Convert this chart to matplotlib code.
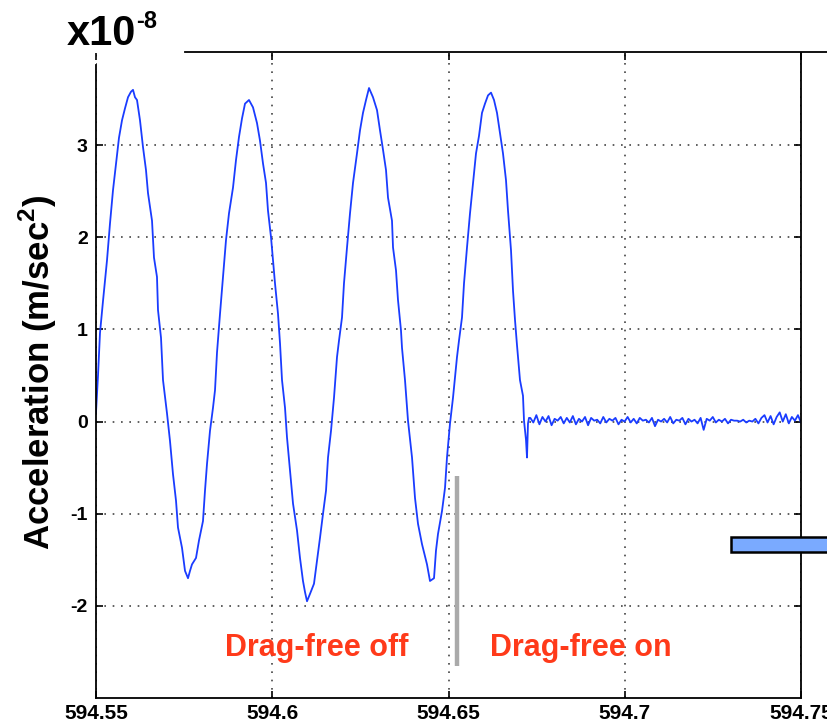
import numpy as np
import matplotlib
matplotlib.use("Agg")
import matplotlib.pyplot as plt
from matplotlib.lines import Line2D
from matplotlib.patches import Rectangle

plt.rcParams['font.family'] = ['Liberation Sans', 'DejaVu Sans']
plt.rcParams['font.weight'] = 'bold'
plt.rcParams['axes.unicode_minus'] = False
plt.rcParams['mathtext.fontset'] = 'custom'
plt.rcParams['mathtext.bf'] = 'Liberation Sans:bold'
plt.rcParams['mathtext.rm'] = 'Liberation Sans:bold'

# time axis start, offsets
t0 = 594.55
# drag-free off: oscillating part (offset from t0, acceleration in 1e-8 m/s^2)
osc_t = [0.0000, 0.00057, 0.00113, 0.00199, 0.00312, 0.00397, 0.00482, 0.00567,
         0.00652, 0.00738, 0.00823, 0.00908, 0.00993, 0.01050, 0.01106, 0.01163,
         0.01248, 0.01333, 0.01418, 0.01475, 0.01589, 0.01645, 0.01730, 0.01759,
         0.01844, 0.01901, 0.02014, 0.02099, 0.02184, 0.02270, 0.02326, 0.02440,
         0.02525, 0.02610, 0.02667, 0.02723, 0.02837, 0.02922, 0.03035, 0.03092,
         0.03149, 0.03234, 0.03319, 0.03376, 0.03433, 0.03518, 0.03603, 0.03688,
         0.03773, 0.03887, 0.03972, 0.04057, 0.04142, 0.04227, 0.04340, 0.04454,
         0.04567, 0.04652, 0.04738, 0.04823, 0.04879, 0.04965, 0.05021, 0.05078,
         0.05163, 0.05220, 0.05277, 0.05362, 0.05418, 0.05504, 0.05589, 0.05702,
         0.05787, 0.05872, 0.05929, 0.05986, 0.06071, 0.06184, 0.06270, 0.06355,
         0.06440, 0.06525, 0.06582, 0.06667, 0.06752, 0.06837, 0.06894, 0.06979,
         0.07035, 0.07121, 0.07206, 0.07291, 0.07404, 0.07489, 0.07574, 0.07660,
         0.07745, 0.07858, 0.07972, 0.08057, 0.08142, 0.08227, 0.08284, 0.08397,
         0.08426, 0.08511, 0.08567, 0.08652, 0.08681, 0.08766, 0.08851, 0.08965,
         0.09050, 0.09135, 0.09248, 0.09390, 0.09475, 0.09589, 0.09645, 0.09702,
         0.09816, 0.09901, 0.09957, 0.10043, 0.10128, 0.10241, 0.10298, 0.10383,
         0.10440, 0.10525, 0.10610, 0.10695, 0.10780, 0.10865, 0.10950, 0.11035,
         0.11121, 0.11206, 0.11291, 0.11376, 0.11461, 0.11546, 0.11631, 0.11688,
         0.11773, 0.11830, 0.11887, 0.11943, 0.12028, 0.12113, 0.12142, 0.12199,
         0.12227, 0.12255, 0.12284]
osc_a = [0.10, 0.50, 0.96, 1.31, 1.75, 2.15, 2.51, 2.80,
         3.08, 3.27, 3.40, 3.52, 3.58, 3.60, 3.52, 3.49,
         3.27, 2.98, 2.73, 2.48, 2.18, 1.78, 1.57, 1.21,
         0.91, 0.45, 0.09, -0.21, -0.57, -0.86, -1.15, -1.37,
         -1.62, -1.70, -1.62, -1.55, -1.48, -1.29, -1.08, -0.75,
         -0.46, -0.10, 0.15, 0.34, 0.75, 1.17, 1.57, 1.97,
         2.26, 2.54, 2.84, 3.09, 3.29, 3.45, 3.49, 3.41,
         3.24, 3.05, 2.80, 2.59, 2.29, 2.00, 1.75, 1.50,
         1.17, 0.85, 0.45, 0.15, -0.17, -0.53, -0.89, -1.18,
         -1.48, -1.73, -1.85, -1.95, -1.87, -1.76, -1.51, -1.26,
         -1.00, -0.75, -0.39, -0.10, 0.26, 0.70, 0.88, 1.13,
         1.50, 1.89, 2.26, 2.59, 2.91, 3.16, 3.35, 3.49,
         3.62, 3.52, 3.38, 3.16, 2.95, 2.73, 2.43, 2.18,
         1.89, 1.64, 1.32, 0.99, 0.80, 0.45, 0.01, -0.39,
         -0.83, -1.11, -1.33, -1.55, -1.73, -1.70, -1.40, -1.22,
         -0.97, -0.72, -0.39, -0.02, 0.26, 0.70, 0.88, 1.13,
         1.50, 1.89, 2.26, 2.59, 2.91, 3.10, 3.35, 3.45,
         3.54, 3.57, 3.49, 3.35, 3.13, 2.91, 2.62, 2.29,
         1.86, 1.42, 1.10, 0.83, 0.45, 0.28, 0.01, -0.20,
         -0.39, -0.02, 0.04]

# drag-free on: residual noise, sampled evenly to the end of the window
flat_a = [0.04, -0.01, 0.07, -0.03, 0.05, 0.00, 0.06, -0.04, 0.03, 0.01,
          0.05, -0.02, 0.04, -0.01, 0.06, -0.03, 0.03, 0.00, 0.05, -0.04,
          0.04, 0.01, 0.02, -0.02, 0.05, -0.01, 0.03, 0.01, 0.04, -0.03,
          0.02, 0.00, 0.05, -0.01, 0.03, -0.02, 0.04, 0.01, 0.02, -0.01,
          0.04, -0.05, 0.02, 0.00, 0.03, -0.01, 0.05, -0.02, 0.02, 0.01,
          0.04, -0.03, 0.03, 0.00, 0.02, -0.02, 0.04, -0.09, 0.03, 0.01,
          0.05, -0.01, 0.02, 0.00, 0.03, -0.02, 0.02, 0.01, 0.01, 0.00,
          0.02, -0.01, 0.01, 0.00, 0.03, -0.02, 0.04, 0.07, -0.01, 0.06,
          -0.03, 0.05, 0.10, 0.00, 0.08, -0.02, 0.05, 0.01, 0.07, -0.01]
flat_start, flat_end = 0.1232, 0.2000

x_ticks = [594.55, 594.6, 594.65, 594.7, 594.75]
x_tick_labels = ['594.55', '594.6', '594.65', '594.7', '594.75']
y_ticks = [-2, -1, 0, 1, 2, 3]

switch_t = 594.6524
labels = ['Drag-free off', 'Drag-free on']
label_t = [594.6125, 594.6875]

t = np.concatenate([t0 + np.array(osc_t),
                    t0 + np.linspace(flat_start, flat_end, len(flat_a))])
a = np.concatenate([osc_a, flat_a])

fig = plt.figure(figsize=(8.27, 7.27), dpi=100)
ax = fig.add_axes([96/827, 29/727, 705/827, 645/727])

ax.plot(t, a, color='#1a3cff', lw=1.3)

ax.set_xlim(594.55, 594.75)
ax.set_ylim(-3, 4)
ax.set_xticks(x_ticks)
ax.set_xticklabels(x_tick_labels)
ax.set_yticks(y_ticks)
ax.tick_params(axis='x', labelsize=15, direction='in', length=5, width=1.2,
               top=True, pad=4)
ax.tick_params(axis='y', labelsize=14, direction='in', length=5, width=1.2,
               right=True, pad=6)
for lab in ax.get_xticklabels() + ax.get_yticklabels():
    lab.set_fontweight('bold')
ax.grid(True, color='#444444', linestyle=(0, (1, 4)), lw=1.2)

ax.spines['top'].set_visible(False)
ax.spines['left'].set_bounds(-3, 3.87)
for s in ['left', 'right', 'bottom']:
    ax.spines[s].set_linewidth(1.3)

# switch marker and annotations
ax.plot([switch_t, switch_t], [-0.59, -2.65], color='#aaaaaa', lw=3.2,
        solid_capstyle='butt')
for lab, lt in zip(labels, label_t):
    ax.text(lt, -2.46, lab, color='#ff3a1a', fontsize=22, fontweight='bold',
            ha='center', va='center')

fig.text(38/827, 1 - 372/727, 'Acceleration (m/sec$^\\mathbf{2}$)', rotation=90,
         ha='center', va='center', fontsize=25, fontweight='bold')
fig.text(67/827, 1 - 45/727, 'x10', fontsize=30, fontweight='bold', va='baseline')
fig.text(136/827, 1 - 28/727, '-8', fontsize=17, fontweight='bold', va='baseline')

fig.add_artist(Line2D([185/827, 1.0], [1 - 52/727, 1 - 52/727],
                      transform=fig.transFigure, color='black', lw=1.3))
fig.add_artist(Rectangle((731/827, 175/727), 0.2, 15/727, transform=fig.transFigure,
                         facecolor='#7aaaff', edgecolor='black', lw=1.8))

fig.savefig('out.png', dpi=100)
